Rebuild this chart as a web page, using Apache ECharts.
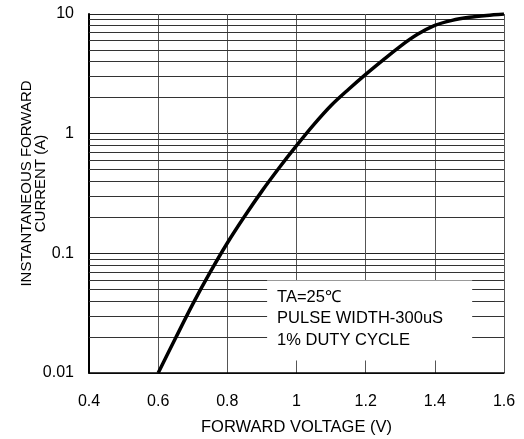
<!DOCTYPE html>
<html>
<head>
<meta charset="utf-8">
<script src="https://cdn.jsdelivr.net/npm/echarts@6/dist/echarts.min.js"></script>
<style>
  html, body { margin: 0; padding: 0; background: #fff; }
  #chart { width: 524px; height: 439px; }
</style>
</head>
<body>
<div id="chart"></div>
<script>
// forward voltage (V) vs instantaneous forward current (A)
var voltage = [0.6, 0.65, 0.7, 0.75, 0.8, 0.85, 0.9, 0.95, 1.0, 1.05, 1.1, 1.15,
               1.2, 1.25, 1.3, 1.35, 1.4, 1.45, 1.5, 1.55, 1.6];
var current = [0.01, 0.0195, 0.0376, 0.0692, 0.122, 0.204, 0.331, 0.519, 0.794, 1.19, 1.72, 2.34,
               3.13, 4.12, 5.37, 6.76, 8.04, 8.85, 9.38, 9.73, 10];

// log grid lines between the decades
var minorLines = [0.02, 0.03, 0.04, 0.05, 0.06, 0.07, 0.08, 0.09,
                  0.2, 0.3, 0.4, 0.5, 0.6, 0.7, 0.8, 0.9,
                  2, 3, 4, 5, 6, 7, 8, 9];

var noteLines = ['TA=25℃', 'PULSE WIDTH-300uS', '1% DUTY CYCLE'];

var curve = voltage.map(function (v, i) { return [v, current[i]]; });

var font = '"Liberation Sans", Arial, sans-serif';

var myChart = echarts.init(document.getElementById('chart'));

myChart.setOption({
    backgroundColor: '#fff',
    animation: false,
    grid: {
        left: 89,
        right: 20,
        top: 14,
        bottom: 66,
        outerBoundsMode: 'none'
    },
    xAxis: {
        type: 'value',
        min: 0.4,
        max: 1.6,
        interval: 0.2,
        name: 'FORWARD VOLTAGE (V)',
        nameLocation: 'middle',
        nameGap: 46,
        nameMoveOverlap: false,
        nameTextStyle: { color: '#000', fontSize: 16.5, fontFamily: font },
        axisLine: { lineStyle: { color: '#000', width: 1.5 } },
        axisTick: { show: false },
        axisLabel: { color: '#000', fontSize: 16, fontFamily: font, margin: 21 },
        splitLine: { show: true, lineStyle: { color: '#555', width: 1 } }
    },
    yAxis: {
        type: 'log',
        logBase: 10,
        min: 0.01,
        max: 10,
        name: 'INSTANTANEOUS FORWARD\nCURRENT (A)',
        nameLocation: 'middle',
        nameGap: 41,
        nameMoveOverlap: false,
        nameTextStyle: {
            color: '#000', fontSize: 15, fontFamily: font, lineHeight: 14,
            padding: [0, 0, 0, 20]
        },
        axisLine: { show: true, lineStyle: { color: '#000', width: 2 } },
        axisTick: { show: false },
        axisLabel: {
            color: '#000', fontSize: 16, fontFamily: font, margin: 15,
            formatter: function (v) { return String(+v.toPrecision(3)); }
        },
        splitLine: { show: true, lineStyle: { color: '#222', width: 1 } }
    },
    series: [
        {
            // minor log grid
            type: 'line',
            data: [],
            z: 1,
            silent: true,
            markLine: {
                z: 1,
                silent: true,
                symbol: ['none', 'none'],
                label: { show: false },
                lineStyle: { type: 'solid', color: '#333', width: 1 },
                data: minorLines.map(function (v) { return { yAxis: v }; })
            }
        },
        {
            // note box
            type: 'line',
            data: [],
            z: 2,
            silent: true,
            markArea: {
                z: 2,
                silent: true,
                itemStyle: { color: '#fff', opacity: 1 },
                label: {
                    show: true,
                    position: 'insideLeft',
                    distance: 10,
                    offset: [0, -2],
                    color: '#000',
                    fontSize: 16.5,
                    fontFamily: font,
                    lineHeight: 21.5,
                    formatter: noteLines.join('\n')
                },
                data: [[
                    { xAxis: 0.915, yAxis: 0.0594 },
                    { xAxis: 1.508, yAxis: 0.0127 }
                ]]
            }
        },
        {
            name: 'IF',
            type: 'line',
            z: 3,
            data: curve,
            smooth: 0.3,
            showSymbol: false,
            lineStyle: { color: '#000', width: 3.5 }
        }
    ]
});
</script>
</body>
</html>
